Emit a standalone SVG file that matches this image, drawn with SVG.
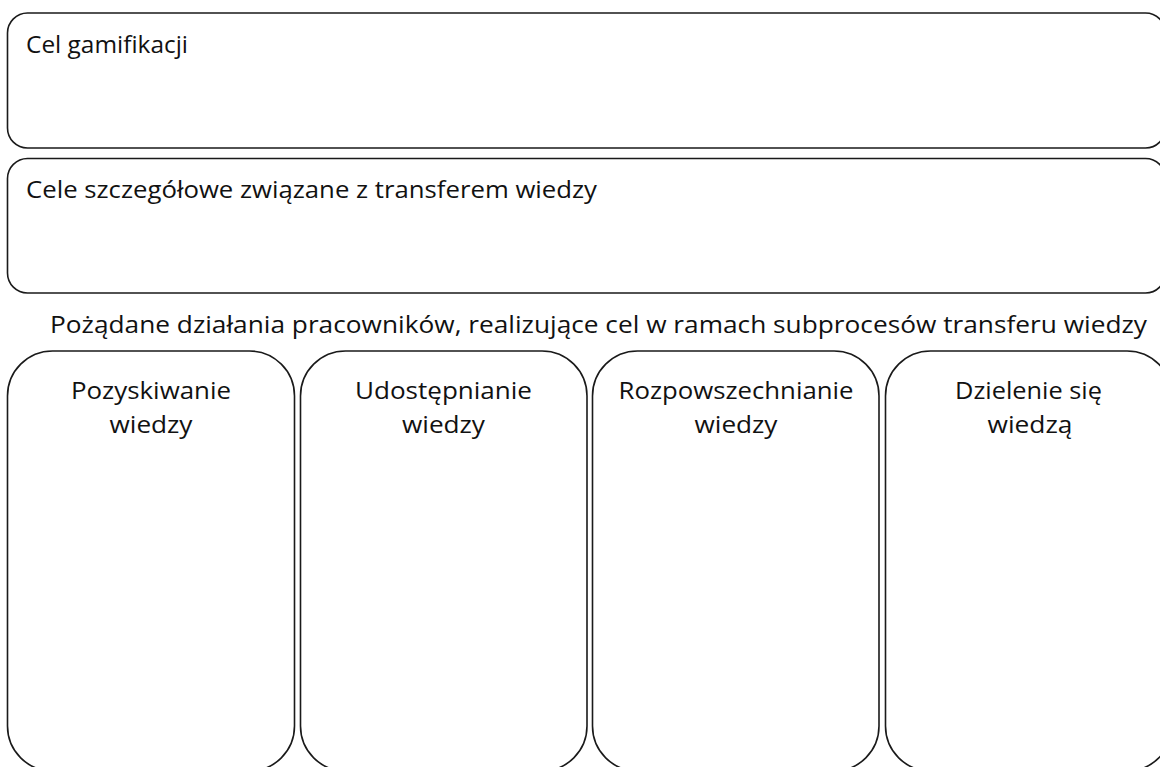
<svg xmlns="http://www.w3.org/2000/svg" width="1160" height="767" viewBox="0 0 1160 767">
<style>
.box{fill:#fff;stroke:#1a1a1a;stroke-width:1.6}
.t{font-family:"Open Sans","Noto Sans","Liberation Sans",sans-serif;font-size:23.5px;fill:#111}
.c{text-anchor:middle}
</style>
<rect width="1160" height="767" fill="#fff"/>
<g id="cel-gamifikacji">
<rect class="box" x="7.5" y="13" width="1158" height="135" rx="20" ry="20"/>
<text class="t" x="26" y="53" textLength="162" lengthAdjust="spacingAndGlyphs">Cel gamifikacji</text>
</g>
<g id="cele-szczegolowe">
<rect class="box" x="7.5" y="158.5" width="1158" height="134.5" rx="20" ry="20"/>
<text class="t" x="26" y="198" textLength="571" lengthAdjust="spacingAndGlyphs">Cele szczegółowe związane z transferem wiedzy</text>
</g>
<g id="naglowek">
<text class="t c" x="598.5" y="333" textLength="1097" lengthAdjust="spacingAndGlyphs">Pożądane działania pracowników, realizujące cel w ramach subprocesów transferu wiedzy</text>
</g>
<g id="pozyskiwanie">
<rect class="box" x="7.5" y="351" width="287" height="420" rx="45" ry="45"/>
<text class="t c" x="151" y="399" textLength="160" lengthAdjust="spacingAndGlyphs">Pozyskiwanie</text>
<text class="t c" x="151" y="433" textLength="83" lengthAdjust="spacingAndGlyphs">wiedzy</text>
</g>
<g id="udostepnianie">
<rect class="box" x="300.5" y="351" width="286.5" height="420" rx="45" ry="45"/>
<text class="t c" x="443.5" y="399" textLength="177" lengthAdjust="spacingAndGlyphs">Udostępnianie</text>
<text class="t c" x="443.5" y="433" textLength="83" lengthAdjust="spacingAndGlyphs">wiedzy</text>
</g>
<g id="rozpowszechnianie">
<rect class="box" x="592.5" y="351" width="286.5" height="420" rx="45" ry="45"/>
<text class="t c" x="736" y="399" textLength="235" lengthAdjust="spacingAndGlyphs">Rozpowszechnianie</text>
<text class="t c" x="736" y="433" textLength="83" lengthAdjust="spacingAndGlyphs">wiedzy</text>
</g>
<g id="dzielenie">
<rect class="box" x="885.5" y="351" width="286.5" height="420" rx="45" ry="45"/>
<text class="t c" x="1028.5" y="399" textLength="147" lengthAdjust="spacingAndGlyphs">Dzielenie się</text>
<text class="t c" x="1030" y="433" textLength="85" lengthAdjust="spacingAndGlyphs">wiedzą</text>
</g>
<g id="connectors"/>
</svg>
